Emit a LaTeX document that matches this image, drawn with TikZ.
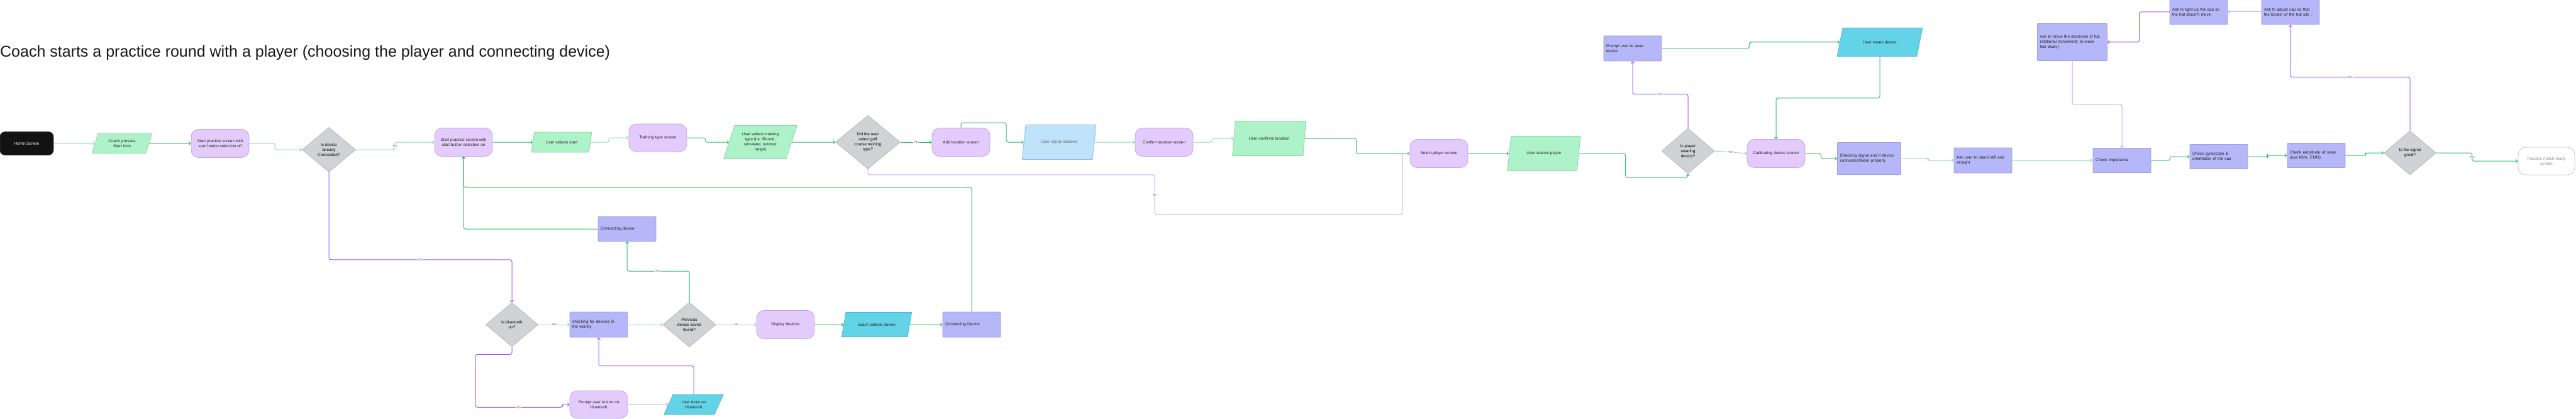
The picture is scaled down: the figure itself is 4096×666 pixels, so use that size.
\documentclass[tikz,border=0pt]{standalone}
\usepackage{fontspec}
\setsansfont{Liberation Sans}
\usepackage{xcolor}
\usepackage{tikz}
\usetikzlibrary{arrows.meta,positioning,shapes.geometric}
\definecolor{screenfill}{HTML}{E3CCFB}
\definecolor{screendraw}{HTML}{C2A3EA}
\definecolor{inputfill}{HTML}{AEF2C9}
\definecolor{inputdraw}{HTML}{8CD9A9}
\definecolor{devfill}{HTML}{63D4E8}
\definecolor{devdraw}{HTML}{4CB8CE}
\definecolor{locfill}{HTML}{BEE3FA}
\definecolor{locdraw}{HTML}{91BEE0}
\definecolor{procfill}{HTML}{B5B7F8}
\definecolor{procdraw}{HTML}{9C9FE4}
\definecolor{askfill}{HTML}{D1D2D6}
\definecolor{askdraw}{HTML}{B7B8BC}
\definecolor{flowgreen}{HTML}{35BC72}
\definecolor{flowgreenlt}{HTML}{8FDDB4}
\definecolor{flowpurple}{HTML}{9D5CF6}
\definecolor{flowpurplelt}{HTML}{C9A9FA}
\definecolor{inktext}{HTML}{222222}
\tikzset{
  fbase/.style={
    align=center,
    text=inktext,
    line width=0.8pt,
    font=\sffamily\fontsize{6.5}{8}\selectfont
  },
  fhome/.style={fbase,draw=black!80,fill=black!93,text=white,rounded corners=8pt,
    minimum width=85pt,minimum height=37pt},
  fscreen/.style={fbase,draw=screendraw,fill=screenfill,rounded corners=12pt,
    minimum width=92pt,minimum height=45pt,inner sep=2pt},
  fend/.style={fscreen,draw=black!22,fill=white,text=black!45},
  finput/.style={fbase,trapezium,trapezium left angle=68,trapezium right angle=112,
    trapezium stretches=true,draw=inputdraw,fill=inputfill,inner sep=1pt},
  fdevice/.style={finput,trapezium left angle=58,trapezium right angle=122,draw=devdraw,fill=devfill},
  floc/.style={finput,draw=locdraw,fill=locfill,text=black!60},
  fproc/.style={fbase,draw=procdraw,fill=procfill,rounded corners=1pt,align=left,
    text width=84pt,inner xsep=4pt,inner ysep=2pt,minimum height=40pt},
  fask/.style={fbase,diamond,draw=askdraw,fill=askfill,inner sep=0pt,text=black},
  ftitle/.style={font=\sffamily\fontsize{25}{30}\selectfont,text=black!90,inner sep=0pt},
  fflow/.style={-{Straight Barb[length=2.5pt,width=5pt]},draw=flowgreen,line width=1pt,rounded corners=3pt},
  fflowlt/.style={fflow,draw=flowgreenlt},
  fno/.style={fflow,draw=flowpurple},
  fnolt/.style={fflow,draw=flowpurplelt},
  flabel/.style={fill=white,inner sep=1pt,text=black!60,font=\sffamily\fontsize{5}{6}\selectfont}
}
\begin{document}
\begin{tikzpicture}[x=1pt,y=-1pt,on grid]
  \fill[white] (0,0) rectangle (4096,666);
  \useasboundingbox (0,0) rectangle (4096,666);
  \node[ftitle,anchor=base west] (title) at (0,91) {Coach starts a practice round with a player (choosing the player and connecting device)};
  \node[fhome] (home) at (42.5,228) {Home Screen};
  \node[finput,minimum width=96pt,minimum height=32pt,right=151.5pt of home] (coach) {Coach presses\\Start Icon};
  \node[fscreen,right=156pt of coach] (startoff) {Start practice screen with\\start button selection off};
  \node[fask,minimum width=85pt,minimum height=71pt,below right=10pt and 173pt of startoff] (connq) {Is device\\already\\Connected?};
  \node[fscreen,above right=12pt and 214pt of connq] (starton) {Start practice screen with\\start button selection on};
  \node[finput,minimum width=96pt,minimum height=32pt,right=156pt of starton] (selstart) {User selects start};
  \node[fscreen,minimum height=44pt,above right=7pt and 153pt of selstart] (trainscr) {Training type screen};
  \node[finput,minimum width=117pt,minimum height=53pt,below right=7pt and 163pt of trainscr] (seltype) {User selects training\\type (i.e. Round,\\simulator, outdoor\\range)};
  \node[fask,minimum width=103pt,minimum height=85pt,right=171pt of seltype] (golfq) {Did the user\\select golf\\course training\\type?};
  \node[fscreen,right=148pt of golfq] (addloc) {Add location screen};
  \node[floc,minimum width=118pt,minimum height=55pt,right=156pt of addloc] (inloc) {User inputs location};
  \node[fscreen,right=167pt of inloc] (confloc) {Confirm location screen};
  \node[finput,minimum width=117pt,minimum height=55pt,above right=6pt and 167pt of confloc] (confirms) {User confirms location};
  \node[fscreen,below right=24pt and 270pt of confirms] (selplayer) {Select player screen};
  \node[finput,minimum width=117pt,minimum height=55pt,right=167pt of selplayer] (userplayer) {User selects player};
  \node[fask,minimum width=84pt,minimum height=72pt,above right=4pt and 229pt of userplayer] (wearq) {Is player\\wearing\\device?};
  \node[fscreen,below right=4pt and 140pt of wearq] (calib) {Calibrating device screen};
  \node[fproc,text width=93pt,minimum height=51pt,below right=8pt and 148pt of calib] (checksig) {Checking signal and if device\\connected/Worn properly};
  \node[fproc,below right=3pt and 181pt of checksig] (askstill) {Ask user to stand still and\\straight};
  \node[fproc,minimum height=39pt,right=221pt of askstill] (imped) {Check Impedance};
  \node[fproc,minimum height=39pt,above right=6pt and 154pt of imped] (gyro) {Check gyroscope \&\\orientation of the cap};
  \node[fproc,minimum height=39pt,above right=2pt and 155pt of gyro] (noise) {Check amplitude of noise\\(eye blink, EMG)};
  \node[fask,minimum width=83pt,minimum height=70pt,above right=4pt and 149pt of noise] (signalq) {Is the signal\\good?};
  \node[fend,minimum width=90pt,minimum height=44pt,below right=13pt and 217pt of signalq] (ready) {Practice match ready\\screen};
  \node[fproc,above left=224pt and 190pt of signalq] (adjust) {Ask to adjust cap so that\\the border of the hat sits ..};
  \node[fproc,left=146pt of adjust] (tight) {Ask to tight up the cap so\\the hat doesn't move};
  \node[fproc,text width=103pt,minimum height=59pt,below left=48pt and 201pt of tight] (electrode) {Ask to move the electrode (if hat\\rotational movement, to move\\hair away)};
  \node[fproc,above left=163pt and 88pt of wearq] (promptwear) {Prompt user to wear\\device};
  \node[fdevice,minimum width=136pt,minimum height=45pt,above right=10pt and 393pt of promptwear] (wears) {User wears device};
  \node[fproc,minimum height=39pt,below right=138pt and 260pt of starton] (conndev) {Connecting device};
  \node[fask,minimum width=83pt,minimum height=70pt,below right=278pt and 291pt of connq] (btq) {Is bluetooth\\on?};
  \node[fproc,right=138pt of btq] (checkdev) {checking for devices in\\the vicinity};
  \node[fask,minimum width=84pt,minimum height=71pt,right=144pt of checkdev] (prevq) {Previous\\device saved\\found?};
  \node[fscreen,right=153pt of prevq] (display) {Display devices};
  \node[fdevice,minimum width=112pt,minimum height=39pt,right=145pt of display] (coachsel) {coach selects device};
  \node[fproc,right=151pt of coachsel] (conndev2) {Connecting Device};
  \node[fscreen,minimum height=44pt,below=127pt of checkdev] (promptbt) {Prompt user to turn on\\bluetooth};
  \node[fdevice,minimum width=95pt,minimum height=32pt,right=151pt of promptbt] (turnsbt) {User turns on\\bluetooth};
  \draw[fflowlt] (home) -- (coach);
  \draw[fflow] (coach) -- (startoff);
  \draw[fflowlt] (startoff.east) -- ++(41,0) |- (connq.west);
  \draw[fflowlt] (connq.east) -- ++(62,0) |- node[flabel,pos=0.25] {Yes} (starton.west);
  \draw[fno] (connq.south) -- ++(0,139) -| node[flabel,pos=0.25] {No} (btq.north);
  \draw[fflow] (starton) -- (selstart);
  \draw[fflowlt] (selstart.east) -- ++(29,0) |- (trainscr.west);
  \draw[fflow] (trainscr.east) -- ++(29,0) |- (seltype.west);
  \draw[fflow] (seltype) -- (golfq);
  \draw[fflow] (golfq.east) -- node[flabel] {Yes} (addloc.west);
  \draw[fflow] (addloc.north) -- ++(0,-8) -- ++(72,0) |- (inloc.west);
  \draw[fflowlt] (inloc) -- (confloc);
  \draw[fflowlt] (confloc.east) -- ++(30,0) |- (confirms.west);
  \draw[fflow] (confirms.east) -- ++(82,0) |- (selplayer.west);
  \draw[fnolt] (golfq.south) -- ++(0,9) -- ++(456,0) -- node[flabel] {No} ++(0,63) -- ++(394,0) |- (selplayer.west);
  \draw[fflow] (selplayer) -- (userplayer);
  \draw[fflow] (userplayer.east) -- ++(74,0) -- ++(0,38) -| (wearq.south);
  \draw[fflowlt] (wearq.east) -- node[flabel] {Yes} (calib.west);
  \draw[fno] (wearq.north) -- ++(0,-54) -| node[flabel,pos=0.25] {No} (promptwear.south);
  \draw[fflow] (promptwear.east) -- ++(139,0) |- (wears.west);
  \draw[fflow] (wears.south) -- ++(0,66) -| (calib.north);
  \draw[fflow] (calib.east) -- ++(25,0) |- (checksig.west);
  \draw[fflowlt] (checksig.east) -- ++(43,0) |- (askstill.west);
  \draw[fflowlt] (askstill) -- (imped);
  \draw[fflow] (imped.east) -- ++(30,0) |- (gyro.west);
  \draw[fflow] (gyro.east) -- ++(31,0) |- (noise.west);
  \draw[fflow] (noise.east) -- ++(32,0) |- (signalq.west);
  \draw[fflow] (signalq.east) -- ++(57,0) |- node[flabel,pos=0.25] {Yes} (ready.west);
  \draw[fno] (signalq.north) -- ++(0,-85) -| node[flabel,pos=0.25] {No} (adjust.south);
  \draw[fnolt] (adjust) -- (tight);
  \draw[fno] (tight.west) -- ++(-48,0) |- (electrode.east);
  \draw[fnolt] (electrode.south) -- ++(0,69) -| (imped.north);
  \draw[fflowlt] (btq.east) -- node[flabel] {Yes} (checkdev.west);
  \draw[fflowlt] (checkdev) -- (prevq);
  \draw[fnolt] (prevq.east) -- node[flabel] {No} (display.west);
  \draw[fflow] (display) -- (coachsel);
  \draw[fflow] (coachsel) -- (conndev2);
  \draw[fflow] (conndev2.north) -- ++(0,-198) -| (starton.south);
  \draw[fflow] (conndev.west) -| (starton.south);
  \draw[fflow] (prevq.north) -- ++(0,-49) -| node[flabel,pos=0.25] {Yes} (conndev.south);
  \draw[fno] (btq.south) -- ++(0,12) -- ++(-58,0) -- ++(0,84) -- node[flabel] {No} ++(138,0) |- (promptbt.west);
  \draw[fnolt] (promptbt) -- (turnsbt);
  \draw[fno] (turnsbt.north) -- ++(0,-45) -| (checkdev.south);
\end{tikzpicture}
\end{document}
